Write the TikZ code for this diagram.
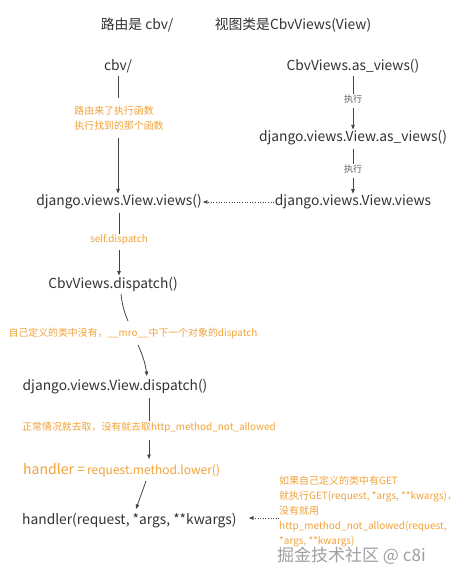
\documentclass[tikz,border=0pt]{standalone}
\usepackage{fontspec}
\setmainfont{Noto Sans CJK SC}
\usetikzlibrary{arrows.meta}
\definecolor{txt}{HTML}{333333}
\definecolor{org}{HTML}{F2A33A}
\definecolor{ln}{HTML}{444444}
\tikzset{
  mainlbl/.style={text=txt,font=\fontsize{13.8}{15}\selectfont,inner sep=1pt},
  orglbl/.style={text=org,font=\fontsize{9.9}{15.5}\selectfont,inner sep=1pt},
  smalllbl/.style={text=txt!80,font=\fontsize{9}{10}\selectfont,inner sep=1pt},
  conn/.style={draw=ln,line width=0.8pt},
  arr/.style={draw=ln,line width=0.8pt,-{Triangle[length=4.5pt,width=3.5pt]}},
  dotarr/.style={draw=ln,line width=0.6pt,dotted,-{Triangle[length=4.5pt,width=3.5pt]}},
}
\begin{document}
\begin{tikzpicture}[x=1pt,y=-1pt]
\useasboundingbox[fill=white] (0,0) rectangle (474,584);
% titles
\node[mainlbl] (t1) at (137,25) {路由是 cbv/};
\node[mainlbl] (t2) at (293,25) {视图类是CbvViews(View)};
% left column
\node[mainlbl] (cbv) at (118,66) {cbv/};
\node[orglbl,align=left] (l1) at (119,118) {路由来了执行函数\\执行找到的那个函数};
\node[mainlbl] (vv) at (119,202) {django.views.View.views()};
\node[orglbl] (sd) at (119,240) {self.dispatch};
\node[mainlbl] (cd) at (113,284) {CbvViews.dispatch()};
\node[orglbl] (mro) at (133,333) {自己定义的类中没有，\_\_mro\_\_中下一个对象的dispatch};
\node[mainlbl] (vd) at (115,387) {django.views.View.dispatch()};
\node[orglbl] (nm) at (149,427) {正常情况就去取，没有就去取http\_method\_not\_allowed};
\node[text=org,inner sep=1pt,anchor=west] (hd) at (22,470) {{\fontsize{14}{15}\selectfont handler =} {\fontsize{12}{15}\selectfont request.method.lower()}};
\node[mainlbl,anchor=west] (hr) at (21,521) {handler(request, *args, **kwargs)};
% right column
\node[mainlbl] (cav) at (353,66) {CbvViews.as\_views()};
\node[smalllbl] (e1) at (353,99) {执行};
\node[mainlbl] (dav) at (353,138) {django.views.View.as\_views()};
\node[smalllbl] (e2) at (353,169) {执行};
\node[mainlbl] (dv) at (353,202) {django.views.View.views};
\node[orglbl,align=left,anchor=north west,font=\fontsize{10}{15}\selectfont] (gt) at (278,475) {如果自己定义的类中有GET\\就执行GET(request, *args, **kwargs)，\\没有就用\\http\_method\_not\_allowed(request,\\*args, **kwargs)};
\node[text=gray!75,font=\fontsize{17}{18}\selectfont,inner sep=0pt,anchor=west] (wm) at (277,556) {掘金技术社区 @ c8i};
% connectors left
\draw[conn] (cbv.south) ++(0,2) coordinate (a1) -- (a1 |- 0,98);
\draw[arr] (118,138) coordinate (a2) -- (a2 |- vv.north);
\draw[conn] (vv.south) ++(0,2) coordinate (a3) -- (a3 |- sd.north);
\draw[arr] (sd.south) ++(0,4) coordinate (a4) -- (a4 |- cd.north);
\draw[conn] (121,294) coordinate (a5) to[bend right=8] (128,321);
\draw[arr] (138,345) coordinate (a6) to[bend left=8] (147,376);
\draw[conn] (149,398) coordinate (a7) -- (a7 |- nm.north);
\draw[arr] (149,440) coordinate (a8) -- (149,459);
\draw[arr] (146,481) coordinate (a9) -- (136,509);
% connectors right
\draw[conn] (cav.south) ++(0,2) coordinate (b1) -- (b1 |- e1.north);
\draw[arr] (e1.south) ++(0,4) coordinate (b2) -- (b2 |- dav.north);
\draw[conn] (dav.south) ++(0,2) coordinate (b3) -- (b3 |- e2.north);
\draw[arr] (e2.south) ++(0,4) coordinate (b4) -- (b4 |- dv.north);
\draw[dotarr] (dv.west) -- (vv.east);
\draw[dotarr] (gt.west |- hr) ++(1,-3) coordinate (c1) -- (249,518);
\end{tikzpicture}
\end{document}
